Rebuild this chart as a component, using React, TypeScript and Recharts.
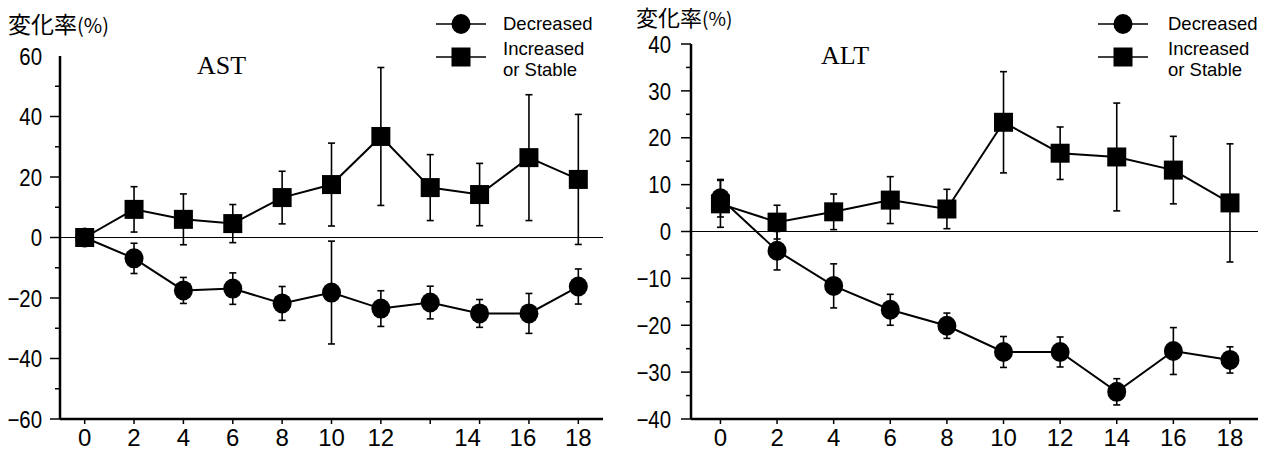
import React from "react";
import { LineChart, Line, XAxis, YAxis, ReferenceLine, ErrorBar } from "recharts";

// AST panel: 11 time points, the axis is labelled unevenly
const astLabels = ["0", "2", "4", "6", "8", "10", "12", "", "14", "16", "18"];
const astDecreased = [0, -6.9, -17.5, -16.9, -21.8, -18.2, -23.5, -21.5, -25.1, -25.1, -16.2];
const astDecreasedErr = [0, 5, 4.3, 5.2, 5.6, 17, 5.9, 5.4, 4.6, 6.6, 5.8];
const astIncreased = [0, 9.3, 6, 4.6, 13.2, 17.5, 33.4, 16.5, 14.2, 26.4, 19.2];
const astIncreasedErr = [0, 7.5, 8.4, 6.3, 8.7, 13.7, 22.8, 10.9, 10.3, 20.8, 21.5];
const astYTicks = [-60, -50, -40, -30, -20, -10, 0, 10, 20, 30, 40, 50, 60];

// ALT panel
const altWeeks = [0, 2, 4, 6, 8, 10, 12, 14, 16, 18];
const altDecreased = [7.1, -4.1, -11.6, -16.7, -20.1, -25.7, -25.7, -34.2, -25.5, -27.4];
const altDecreasedErr = [4, 4.1, 4.7, 3.3, 2.7, 3.3, 3.2, 2.8, 5, 2.8];
const altIncreased = [5.9, 2.0, 4.2, 6.7, 4.8, 23.3, 16.7, 15.9, 13.1, 6.1];
const altIncreasedErr = [5, 3.6, 3.8, 5, 4.2, 10.8, 5.6, 11.5, 7.2, 12.6];
const altYTicks = [-40, -35, -30, -25, -20, -15, -10, -5, 0, 5, 10, 15, 20, 25, 30, 35, 40];

const astData = astLabels.map((label, i) => ({
  x: i,
  label,
  dec: astDecreased[i],
  decErr: astDecreasedErr[i],
  inc: astIncreased[i],
  incErr: astIncreasedErr[i],
}));

const altData = altWeeks.map((w, i) => ({
  x: w,
  label: String(w),
  dec: altDecreased[i],
  decErr: altDecreasedErr[i],
  inc: altIncreased[i],
  incErr: altIncreasedErr[i],
}));

const SANS = "'Liberation Sans', Arial, sans-serif";
const SERIF = "'Liberation Serif', 'Times New Roman', serif";
const CJK = "'Noto Sans CJK JP', sans-serif";

const fmt = (v: number) => (v < 0 ? "\u2212" + Math.abs(v) : String(v));

const CircleDot = (props: any) => {
  const { cx, cy, index } = props;
  if (cx == null || cy == null) return null;
  return <ellipse key={`c-${index}`} cx={cx} cy={cy} rx={9.5} ry={10} fill="#000" />;
};

const SquareDot = (props: any) => {
  const { cx, cy, index } = props;
  if (cx == null || cy == null) return null;
  return <rect key={`s-${index}`} x={cx - 9.5} y={cy - 9.5} width={19} height={19} fill="#000" />;
};

// y ticks: long marks with labels at the major steps, short marks between
const makeYTick = (major: number, gap: number, bare: number[]) => (props: any) => {
  const { x, y, payload } = props;
  const v = payload.value;
  const isMajor = v % major === 0;
  return (
    <g key={`y-${v}`}>
      {!bare.includes(v) && (
        <line x1={x - (isMajor ? 10 : 5)} x2={x} y1={y} y2={y} stroke="#000" strokeWidth={1.5} />
      )}
      {isMajor && (
        <text
          transform={`translate(${x - gap},${y}) scale(0.85,1)`}
          dy="0.36em"
          textAnchor="end"
          fontSize={24}
          fontFamily={SANS}
          fill="#000"
        >
          {fmt(v)}
        </text>
      )}
    </g>
  );
};

const makeXTick = (rows: { x: number; label: string }[], shift: Record<string, number>) => (props: any) => {
  const { x, y, payload } = props;
  const row = rows.find((r) => r.x === payload.value);
  const label = row ? row.label : "";
  return (
    <text key={`x-${payload.value}`} x={x + (shift[label] || 0)} y={y} dy="0.71em" textAnchor="middle" fontSize={24} fontFamily={SANS} fill="#000">
      {label}
    </text>
  );
};

type PanelProps = {
  data: typeof astData;
  width: number;
  xDomain: [number, number];
  yDomain: [number, number];
  yTicks: number[];
  major: number;
  yWidth: number;
  top: number;
  right: number;
  gap: number;
  shift: Record<string, number>;
  bare: number[];
};

const Panel = ({ data, width, xDomain, yDomain, yTicks, major, yWidth, top, right, gap, shift, bare }: PanelProps) => (
  <LineChart width={width} height={455} data={data} margin={{ top, right, bottom: 0, left: 0 }}>
    <XAxis
      dataKey="x"
      type="number"
      domain={xDomain}
      ticks={data.map((d) => d.x)}
      interval={0}
      allowDataOverflow
      height={36}
      tickSize={5}
      tickMargin={5}
      tickLine={{ stroke: "#000", strokeWidth: 1.5 }}
      axisLine={{ stroke: "#000", strokeWidth: 2.5 }}
      tick={makeXTick(data, shift)}
    />
    <YAxis
      type="number"
      domain={yDomain}
      ticks={yTicks}
      interval={0}
      allowDataOverflow
      width={yWidth}
      tickSize={0}
      tickMargin={0}
      tickLine={false}
      axisLine={{ stroke: "#000", strokeWidth: 2.5 }}
      tick={makeYTick(major, gap, bare)}
    />
    <ReferenceLine y={0} stroke="#000" strokeWidth={1.2} />
    <Line
      dataKey="dec"
      type="linear"
      stroke="#000"
      strokeWidth={2}
      dot={CircleDot}
      activeDot={false}
      isAnimationActive={false}
    >
      <ErrorBar dataKey="decErr" direction="y" width={3.5} stroke="#000" strokeWidth={1.6} />
    </Line>
    <Line
      dataKey="inc"
      type="linear"
      stroke="#000"
      strokeWidth={2}
      dot={SquareDot}
      activeDot={false}
      isAnimationActive={false}
    >
      <ErrorBar dataKey="incErr" direction="y" width={3.5} stroke="#000" strokeWidth={1.6} />
    </Line>
  </LineChart>
);

const Legend = ({ cx, tx }: { cx: number; tx: number }) => (
  <g>
    <line x1={cx - 25} x2={cx + 25} y1={24} y2={24} stroke="#000" strokeWidth={1.5} />
    <ellipse cx={cx} cy={24} rx={9.5} ry={10} fill="#000" />
    <text x={tx} y={23} dy="0.36em" fontSize={18.5} fontFamily={SANS}>Decreased</text>
    <line x1={cx - 25} x2={cx + 25} y1={57} y2={57} stroke="#000" strokeWidth={1.5} />
    <rect x={cx - 9.5} y={47.5} width={19} height={19} fill="#000" />
    <text x={tx} y={48.25} dy="0.36em" fontSize={18.5} fontFamily={SANS}>Increased</text>
    <text x={tx} y={69.75} dy="0.36em" fontSize={18.5} fontFamily={SANS}>or Stable</text>
  </g>
);

const YLabel = ({ x, y, size }: { x: number; y: number; size: number }) => (
  <text x={x} y={y} fontFamily={CJK} fontSize={size} fill="#000">
    変化率<tspan fontSize={size - 3}>(%)</tspan>
  </text>
);

export default function App() {
  return (
    <div style={{ position: "absolute", left: 0, top: 0, width: 1272, height: 455, background: "#fff" }}>
      <div style={{ position: "absolute", left: 0, top: 0 }}>
        <Panel
          data={astData}
          width={636}
          xDomain={[-0.5, 10.5]}
          yDomain={[-60, 60]}
          yTicks={astYTicks}
          major={20}
          yWidth={60}
          top={56}
          right={33}
          gap={18}
          shift={{ "14": -12, "16": -6 }}
          bare={[60]}
        />
      </div>
      <div style={{ position: "absolute", left: 606, top: 0 }}>
        <Panel
          data={altData}
          width={666}
          xDomain={[-1.04, 18.99]}
          yDomain={[-40, 40]}
          yTicks={altYTicks}
          major={10}
          yWidth={85}
          top={44}
          right={14}
          gap={20}
          shift={{}}
          bare={[]}
        />
      </div>
      <svg width={1272} height={455} style={{ position: "absolute", left: 0, top: 0, pointerEvents: "none" }}>
        <YLabel x={8} y={33} size={23} />
        <YLabel x={636} y={26} size={22} />
        <text x={197} y={74} fontFamily={SERIF} fontSize={26} fill="#000">AST</text>
        <text x={821} y={64} fontFamily={SERIF} fontSize={26} fill="#000">ALT</text>
        <Legend cx={461} tx={503} />
        <Legend cx={1123} tx={1168} />
      </svg>
    </div>
  );
}
